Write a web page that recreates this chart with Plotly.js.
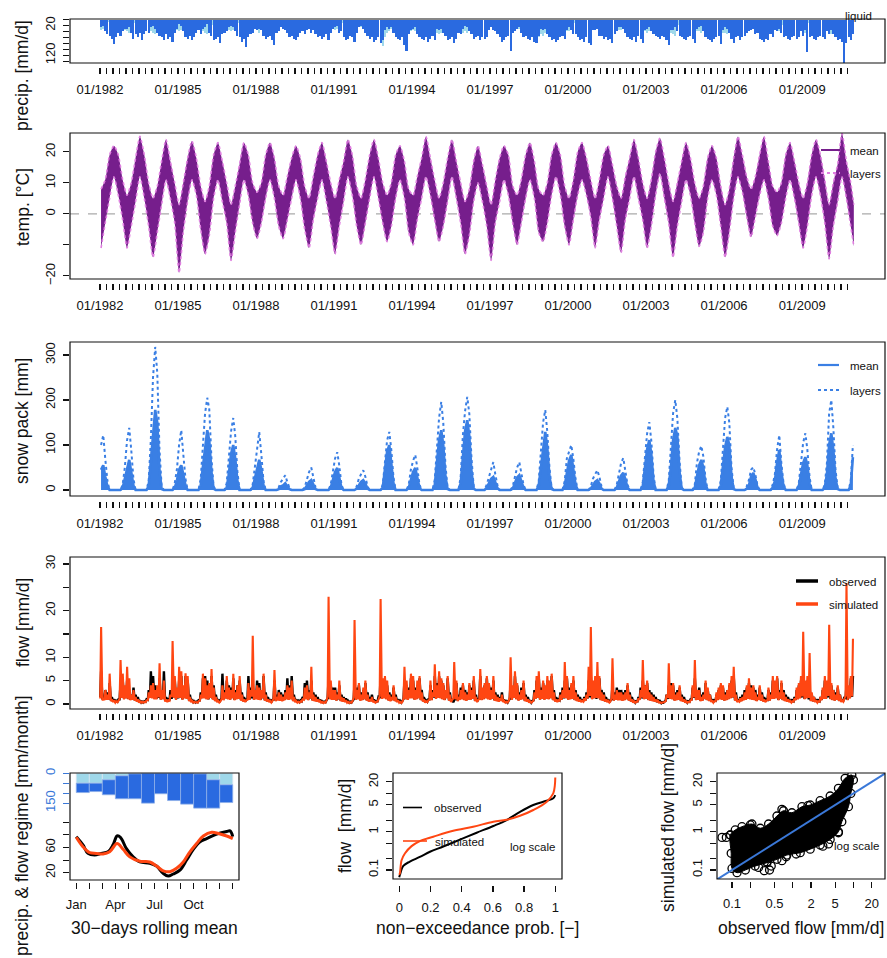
<!DOCTYPE html>
<html><head><meta charset="utf-8">
<script src="https://cdn.plot.ly/plotly-3.0.1.min.js"></script>
<style>html,body{margin:0;padding:0;background:#fff}#chart{width:887px;height:958px}</style>
</head><body><div id="chart"></div>
<script>
// ---------------- DATA ----------------
const years = [1982,1983,1984,1985,1986,1987,1988,1989,1990,1991,1992,1993,1994,1995,1996,1997,1998,1999,2000,2001,2002,2003,2004,2005,2006,2007,2008,2009,2010];
const labelYears = [1982,1985,1988,1991,1994,1997,2000,2003,2006,2009];
const tickMonths = [1,4,7,10];
const tempMonths = [1,3,5,7,9,11];
const tempEndDate = '2010-12-28';

// daily precipitation, monthly maxima [mm/d] (Jan..Dec per row)
const precipLiquid = [
25,20,40,50,55,65,81,60,45,55,40,30,
30,25,45,65,50,60,45,70,50,40,45,25,
20,30,45,55,60,70,50,65,60,75,45,30,
15,20,40,60,65,55,70,60,45,35,50,30,
25,15,45,55,70,65,60,80,50,45,40,25,
20,25,40,55,60,75,65,93,60,50,45,30,
35,30,35,55,65,60,55,70,87,45,40,25,
30,35,45,60,55,65,70,60,45,40,50,35,
30,45,35,50,60,55,65,60,50,70,45,30,
25,20,45,40,60,70,65,55,60,75,45,25,
20,30,45,55,65,60,75,70,60,80,70,35,
25,30,25,45,60,65,70,60,85,105,50,35,
30,25,50,60,65,70,60,75,65,55,70,30,
35,30,45,55,70,65,60,80,65,45,50,30,
20,25,40,50,65,60,55,70,60,65,60,35,
25,35,40,50,60,75,70,60,55,105,45,40,
30,25,45,60,55,65,70,60,75,80,55,30,
35,30,50,60,70,65,75,70,60,55,65,35,
25,35,50,50,60,70,65,75,60,80,85,35,
35,30,55,55,65,60,70,65,80,50,40,25,
25,30,45,60,65,70,60,75,55,65,80,35,
30,25,40,50,55,60,65,55,60,70,87,35,
35,25,40,55,60,65,70,60,55,65,80,30,
25,20,40,60,65,70,75,65,60,55,82,35,
25,30,45,65,80,60,55,70,60,55,45,40,
35,30,50,45,65,70,75,65,70,50,60,35,
40,30,45,60,55,65,70,60,55,65,60,40,
55,35,108,60,55,65,70,60,55,60,65,40,
50,35,50,60,70,65,75,146,80,60,70,50];
const precipSolid = [
35,30,20,8,0,0,0,0,0,0,20,35,
40,45,25,12,0,0,0,0,0,0,25,40,
45,50,35,18,4,0,0,0,0,6,20,35,
40,35,25,12,0,0,0,0,0,0,25,40,
45,50,35,18,0,0,0,0,0,0,20,35,
40,35,25,12,0,0,0,0,0,0,15,30,
35,45,35,12,0,0,0,0,0,0,15,20,
20,25,20,6,0,0,0,0,0,0,15,20,
25,35,20,6,0,0,0,0,0,0,20,25,
35,30,20,12,0,0,0,0,0,0,15,25,
25,30,25,6,0,0,0,0,0,0,90,60,
45,40,30,12,0,0,0,0,0,6,25,40,
35,40,25,12,0,0,0,0,0,0,25,45,
50,45,35,18,0,0,0,0,0,0,30,45,
40,45,35,18,4,0,0,0,0,0,20,35,
25,20,20,6,0,0,0,0,0,0,15,35,
25,30,25,12,0,0,0,0,0,0,60,50,
55,45,35,18,0,0,0,0,0,0,25,40,
40,35,25,12,0,0,0,0,0,0,15,25,
25,30,20,6,0,0,0,0,0,0,20,35,
35,30,25,12,0,0,0,0,0,0,25,40,
45,40,30,12,0,0,0,0,0,0,25,45,
50,55,40,18,0,0,0,0,0,0,20,40,
40,45,30,12,0,0,0,0,0,0,25,45,
45,50,35,18,0,0,0,0,0,0,15,25,
25,20,20,6,0,0,0,0,0,0,20,35,
35,40,30,18,0,0,0,0,0,0,20,35,
40,45,30,12,0,0,0,0,0,0,20,40,
45,50,35,18,0,0,0,0,0,0,25,45];

// temperature envelope [°C], bimonthly (Jan,Mar,May,Jul,Sep,Nov) + Dec 2010
const tempHigh = [
8,11,19,22,19,11,  6,10,18,25,19,10,  5,9,17,24,17,10,  3,10,18,23.5,18,9,
4,9,19,23,17,10,   3,9,16,23,19,10,   7,10,19,23,18,9,  6,12,18,22,18,9,
5,12,19,23,17,10,  5,11,17,24,19,9,   5,11,19,24,18,10, 6,10,19,22,17,8,
6,12,18,25,18,11,  5,10,18,24,17,10,  4,8,17,22,16,9,   3,11,18,22,19,9,
6,11,19,23,17,8,   6,10,19,23,19,9,   5,11,20,23,18,11, 5,11,19,22,16,9,
5,12,18,24,18,10,  5,11,20,24.5,18,10, 4,10,17,23,18,10, 5,9,18,22,18,9,
3,8,18,25,19,12,   8,12,19,25,17,9,   7,10,19,23,17,10, 5,10,19,24,19,11,
3,10,16,26,17,10,  3];
const tempLow = [
-11,-3,5,12,6,-2,  -11,-4,4,12,5,-4,  -14,-6,3,11,5,-3,  -19,-6,4,11,6,-5,
-13,-7,5,11,4,-3,  -15,-6,3,11,6,-3,  -8,-3,5,11,5,-4,   -8,-2,5,11,5,-5,
-11,-2,5,11,4,-4,  -13,-4,4,12,6,-4,  -10,-3,5,12,5,-3,  -9,-4,5,11,5,-6,
-10,-2,5,12,6,-2,  -9,-4,4,12,5,-3,   -13,-7,4,10,4,-4,  -15,-3,4,11,6,-3,
-10,-3,5,11,5,-6,  -9,-3,6,12,6,-4,   -10,-2,6,11,6,-1,  -11,-2,5,12,5,-4,
-12.5,-2,5,12,5,-2, -11,-4,6,13,5,-3, -14,-4,4,11,6,-3,  -10.5,-6,5,11,6,-4,
-14,-6,5,12,7,-1,  -7.5,-1,6,11,5,-4, -7,-3,5,11,5,-3,   -11,-4,6,12,6,-3,
-14.5,-4,4,12,5,-4, -10.5];

// snow pack [mm], monthly (Jan..Dec)
const snowMean = [
45,55,30,8,0,0,0,0,0,0,5,25,
50,67,40,10,0,0,0,0,0,0,8,60,
130,178,150,45,2,0,0,0,0,0,5,20,
45,55,35,10,0,0,0,0,0,0,10,50,
100,133,110,40,3,0,0,0,0,0,5,35,
80,100,70,20,0,0,0,0,0,0,5,25,
50,67,45,10,0,0,0,0,0,0,2,8,
10,15,8,2,0,0,0,0,0,0,2,10,
18,22,12,2,0,0,0,0,0,0,5,20,
40,49,30,5,0,0,0,0,0,0,3,12,
18,22,15,3,0,0,0,0,0,0,5,40,
85,100,60,15,0,0,0,0,0,0,5,25,
40,49,30,5,0,0,0,0,0,0,10,60,
110,133,100,30,2,0,0,0,0,0,15,70,
130,155,120,40,3,0,0,0,0,0,5,15,
25,29,18,4,0,0,0,0,0,0,3,15,
28,33,20,5,0,0,0,0,0,0,10,50,
100,129,95,30,2,0,0,0,0,0,10,40,
65,78,50,12,0,0,0,0,0,0,3,12,
18,22,15,3,0,0,0,0,0,0,5,20,
32,38,25,5,0,0,0,0,0,0,8,45,
90,111,80,20,0,0,0,0,0,0,10,50,
110,138,120,40,3,0,0,0,0,0,5,30,
55,67,50,12,0,0,0,0,0,0,10,50,
95,118,100,30,2,0,0,0,0,0,3,10,
30,38,25,5,0,0,0,0,0,0,5,20,
60,89,40,8,0,0,0,0,0,0,8,30,
60,73,55,15,0,0,0,0,0,0,5,35,
100,126,90,25,2,0,0,0,0,0,10,73];
const snowLayers = [
100,122,70,20,0,0,0,0,0,0,12,50,
110,138,90,25,0,0,0,0,0,0,20,110,
250,318,260,90,8,0,0,0,0,0,15,45,
100,133,80,25,0,0,0,0,0,0,25,95,
170,205,180,70,8,0,0,0,0,0,15,70,
130,160,120,40,0,0,0,0,0,0,12,50,
100,129,80,20,0,0,0,0,0,0,6,18,
25,33,18,5,0,0,0,0,0,0,6,22,
40,50,28,6,0,0,0,0,0,0,12,40,
70,84,55,12,0,0,0,0,0,0,8,25,
35,44,30,8,0,0,0,0,0,0,12,60,
110,129,90,28,0,0,0,0,0,0,12,45,
65,78,50,12,0,0,0,0,0,0,22,100,
160,196,150,55,5,0,0,0,0,0,30,120,
175,207,170,70,8,0,0,0,0,0,12,30,
50,62,35,10,0,0,0,0,0,0,8,30,
50,62,40,12,0,0,0,0,0,0,20,90,
150,178,130,50,5,0,0,0,0,0,20,70,
85,100,70,25,0,0,0,0,0,0,8,25,
35,44,30,8,0,0,0,0,0,0,12,40,
60,71,45,12,0,0,0,0,0,0,18,80,
125,151,110,35,0,0,0,0,0,0,20,90,
170,200,160,65,6,0,0,0,0,0,12,60,
85,98,75,25,0,0,0,0,0,0,20,90,
160,185,150,50,4,0,0,0,0,0,8,22,
45,51,35,10,0,0,0,0,0,0,12,35,
90,122,60,15,0,0,0,0,0,0,15,55,
105,126,90,30,0,0,0,0,0,0,12,60,
170,200,140,45,4,0,0,0,0,0,20,100];

// flow [mm/d]: monthly low (base) and peak values (Jan..Dec)
const flowObsBase = [
1.5,1.0,1.2,1.0,1.0,0.7,0.5,0.4,0.5,1.0,1.4,1.2,
1.3,1.1,0.9,1.0,0.8,0.6,0.4,0.3,0.3,0.5,0.9,1.5,
1.4,1.2,1.1,1.3,1.0,1.2,0.7,0.5,0.8,1.1,1.4,1.0,
1.2,1.4,1.0,1.3,1.2,0.8,0.5,0.4,0.3,0.4,0.8,1.3,
1.4,1.2,1.0,1.4,1.1,0.8,0.5,0.4,1.2,1.0,1.3,1.1,
1.0,1.3,0.9,1.1,1.2,0.9,0.6,0.5,1.1,1.0,1.2,1.0,
1.2,1.1,0.9,1.3,0.8,0.6,0.5,0.4,1.0,0.7,0.9,0.8,
0.7,0.9,1.2,1.0,1.2,0.8,0.5,0.4,0.4,0.6,1.1,1.2,
0.9,1.2,0.8,0.7,0.6,0.5,0.3,0.3,0.4,1.2,1.1,1.0,
1.0,0.8,1.0,0.7,0.6,0.5,0.4,0.3,0.3,1.0,1.0,1.1,
0.8,0.9,1.1,0.8,0.6,0.7,0.5,0.3,0.6,1.3,1.2,1.3,
1.1,0.8,0.7,0.9,0.7,0.5,0.4,0.3,1.1,1.1,1.0,1.3,
1.3,1.0,1.1,1.3,0.9,0.6,0.4,0.5,1.0,0.9,1.4,1.2,
1.4,1.3,1.1,0.9,1.3,0.8,0.5,0.4,1.1,0.7,1.0,1.1,
0.9,0.8,1.0,1.0,1.2,0.7,0.5,1.2,0.9,1.1,1.3,1.1,
1.0,1.2,0.8,0.7,0.6,0.8,0.5,0.3,0.3,1.1,1.0,1.4,
1.1,0.8,1.0,1.1,0.7,0.6,0.4,0.3,0.8,1.2,1.3,1.0,
1.2,1.0,1.2,1.1,1.3,0.9,0.6,0.5,0.8,1.0,1.2,1.3,
1.0,1.1,1.2,0.9,0.7,0.6,0.5,0.6,0.8,1.2,1.4,1.1,
1.3,1.1,1.3,0.9,0.8,0.6,0.5,0.4,1.0,0.8,1.0,0.9,
0.9,0.8,0.9,1.1,0.8,0.6,0.4,0.3,0.6,1.0,1.2,1.1,
1.2,0.9,0.8,0.7,0.6,0.4,0.3,0.2,0.3,0.7,1.1,1.2,
1.1,0.8,0.9,1.0,0.7,0.6,0.4,0.3,0.5,1.0,1.3,0.9,
1.0,0.7,0.8,1.2,0.9,0.7,0.5,0.4,0.7,0.9,1.1,1.0,
0.8,0.9,1.1,1.3,1.4,0.8,0.5,0.6,0.7,0.9,1.0,1.2,
1.1,1.0,0.9,0.7,1.0,0.8,0.6,0.5,0.9,0.8,1.2,1.2,
1.3,0.9,1.2,0.9,0.7,0.6,0.5,0.4,0.6,0.9,1.1,1.3,
1.4,1.1,1.3,1.0,0.7,0.6,0.5,0.4,0.6,0.9,1.2,1.2,
1.4,1.1,0.9,0.8,1.0,0.7,0.5,0.6,1.1,0.9,1.3,1.5];
const flowObsPeak = [
7.0,1.5,3.0,2.5,4.5,1.5,1.0,0.7,1.0,4.5,5.0,3.0,
5.0,3.0,2.0,3.5,2.0,1.5,0.8,0.5,0.6,1.0,3.0,7.0,
6.0,4.0,3.5,5.5,3.0,7.0,1.5,1.0,3.0,4.0,5.0,3.0,
5.0,6.0,3.5,6.0,5.0,2.0,1.0,0.6,0.5,0.8,2.5,5.5,
6.0,5.0,3.5,6.0,4.0,2.0,1.0,0.7,6.5,3.0,5.0,4.0,
3.5,5.5,3.0,4.0,5.0,2.5,1.5,1.0,6.0,3.5,4.5,3.0,
5.0,4.5,3.0,6.0,2.5,1.5,1.0,0.8,5.0,2.0,3.0,2.5,
2.0,3.0,5.5,4.0,6.0,2.0,1.0,0.7,0.8,1.5,4.5,5.0,
3.0,5.0,2.5,2.0,1.5,1.0,0.6,0.5,0.8,5.5,4.0,3.5,
3.5,2.5,4.0,2.0,1.5,1.2,0.7,0.5,0.6,4.5,3.5,4.0,
2.5,3.0,4.5,2.5,1.5,2.0,1.0,0.6,1.5,6.0,4.5,5.0,
4.0,2.5,2.0,3.5,2.0,1.0,0.7,0.6,5.0,4.0,3.5,5.5,
5.0,3.5,4.0,5.5,3.0,1.5,0.8,1.0,4.0,3.0,6.0,4.5,
6.0,5.0,4.0,3.0,5.5,2.5,1.0,0.8,4.5,2.0,3.5,4.0,
3.0,2.5,4.0,3.5,5.0,2.0,1.0,6.0,3.0,4.0,5.5,4.0,
3.5,5.0,2.5,2.0,1.5,2.5,1.0,0.6,0.7,4.5,3.5,6.0,
4.0,2.5,3.5,4.5,2.0,1.5,0.8,0.6,3.0,5.0,5.5,3.5,
4.5,3.5,5.0,4.0,6.0,3.0,1.5,1.0,2.5,3.5,5.0,5.5,
3.5,4.0,5.0,3.0,2.0,1.5,1.0,1.5,2.5,5.0,6.0,4.0,
5.0,4.0,5.5,3.0,2.5,1.5,1.0,0.7,4.0,2.5,3.5,3.0,
3.0,2.5,3.0,4.0,2.5,1.5,0.8,0.6,1.5,3.5,5.0,4.0,
4.5,3.0,2.5,2.0,1.5,1.0,0.6,0.4,0.5,2.0,4.0,4.5,
4.0,2.5,3.0,3.5,2.0,1.5,0.8,0.6,1.0,3.5,5.5,3.0,
3.5,2.0,2.5,4.5,3.0,2.0,1.0,0.8,2.0,3.0,4.0,3.5,
2.5,3.0,4.0,5.0,6.0,2.5,1.0,1.5,2.0,3.0,3.5,4.5,
4.0,3.5,3.0,2.0,3.5,2.5,1.5,1.0,3.0,2.5,5.0,4.5,
5.5,3.0,4.5,3.0,2.0,1.5,1.0,0.8,1.5,3.0,4.0,5.0,
6.0,4.0,5.0,3.5,2.0,1.5,1.0,0.8,1.5,3.0,5.0,4.5,
5.5,4.0,3.0,2.5,3.5,2.0,1.0,1.5,4.0,3.0,5.5,6.0];
const flowSimBase = [
1.2,0.8,1.0,0.9,0.9,0.6,0.4,0.3,0.4,1.1,1.3,1.0,
1.2,1.0,0.8,0.9,0.7,0.5,0.3,0.3,0.3,0.4,0.8,1.3,
1.2,1.0,1.0,1.4,0.9,1.0,0.5,0.4,0.7,1.5,1.3,0.9,
1.3,1.3,0.9,1.2,1.1,0.6,0.4,0.3,0.3,0.3,0.7,1.2,
1.2,1.0,1.0,1.3,0.9,0.6,0.4,0.3,1.0,0.8,1.2,1.0,
0.9,1.2,0.8,1.0,1.1,0.7,0.5,0.4,0.9,0.9,1.6,0.9,
1.0,0.9,0.8,1.2,0.7,0.5,0.4,0.3,1.1,0.6,0.8,0.7,
0.6,0.8,1.0,0.9,1.0,0.6,0.4,0.3,0.3,0.5,0.9,1.0,
0.8,1.2,0.7,0.6,0.5,0.4,0.3,0.2,0.3,1.6,1.0,0.9,
0.9,0.7,1.0,0.6,0.5,0.4,0.3,0.2,0.3,1.4,0.9,1.0,
0.7,0.8,1.0,0.7,0.5,0.6,0.4,0.3,0.5,1.7,1.1,1.2,
1.0,0.7,0.6,0.8,0.6,0.4,0.3,0.2,1.2,1.0,0.9,1.2,
1.2,0.9,1.0,1.2,0.8,0.5,0.3,0.4,0.9,0.8,1.5,1.1,
1.3,1.2,1.0,0.8,1.2,0.7,0.4,1.2,1.0,0.6,0.9,1.0,
0.8,0.7,0.9,0.9,1.1,0.6,0.4,1.1,0.8,1.0,1.2,1.0,
0.9,1.1,0.7,0.6,0.5,0.7,0.4,0.3,0.3,1.4,0.9,1.3,
1.0,0.7,0.9,1.0,0.6,0.5,0.3,0.3,0.7,1.1,1.3,0.9,
1.1,0.9,1.1,1.0,1.2,0.8,0.5,0.4,0.7,0.9,1.3,1.2,
0.9,1.0,1.1,0.8,0.6,0.5,0.4,0.5,0.7,1.2,1.7,1.0,
1.2,1.3,1.2,0.8,0.7,0.5,0.4,0.3,1.2,0.7,0.9,0.8,
0.8,0.7,0.8,1.0,0.7,0.5,0.3,0.3,0.5,0.9,1.4,1.0,
1.1,0.8,0.7,0.6,0.5,0.4,0.3,0.2,0.3,0.6,1.3,1.1,
1.0,0.7,0.8,0.9,0.6,0.5,0.3,0.3,0.4,0.9,1.4,0.8,
0.9,0.6,0.7,1.1,0.8,0.6,0.4,0.3,0.6,0.8,1.0,0.9,
0.7,0.8,1.0,1.2,1.4,0.7,0.4,0.5,0.6,0.8,0.9,1.1,
1.0,0.9,0.8,0.6,0.9,0.7,0.5,0.4,0.8,0.7,1.1,1.1,
1.2,0.8,1.1,0.8,0.6,0.5,0.4,0.3,0.5,0.8,1.0,1.2,
1.6,1.0,1.2,1.3,0.6,0.5,0.4,0.3,0.5,0.8,1.1,1.1,
1.7,1.0,0.8,0.7,0.9,0.6,0.4,0.5,1.8,0.8,1.2,1.6];
const flowSimPeak = [
16.5,1.0,3.0,2.0,6.5,1.0,0.8,0.6,0.8,9.4,6.5,4.0,
8.0,5.5,2.0,3.0,1.5,1.0,0.6,0.5,0.5,0.8,2.5,4.0,
4.5,3.0,4.0,8.7,3.0,5.0,1.0,0.8,2.0,13.5,6.0,3.5,
8.0,7.0,4.0,6.6,6.0,1.5,0.7,0.5,0.4,0.6,2.0,6.5,
5.5,4.0,4.5,7.5,3.5,1.5,0.7,0.5,4.0,2.5,6.0,3.5,
3.0,6.5,2.5,4.0,6.0,2.0,1.0,0.8,4.5,3.0,14.6,3.0,
4.0,3.5,3.0,6.5,2.0,1.0,0.7,0.6,7.3,1.5,2.5,2.0,
1.5,2.5,4.0,3.5,5.0,1.5,0.7,0.5,0.6,1.0,3.5,4.0,
2.5,8.0,2.0,1.5,1.0,0.7,0.5,0.4,0.7,23.0,5.0,3.0,
3.0,2.0,5.0,1.5,1.2,0.8,0.5,0.4,0.6,18.0,3.0,4.5,
2.0,3.5,5.0,2.0,1.0,1.5,0.6,0.5,1.0,22.5,5.5,6.0,
5.0,2.0,1.5,4.0,1.5,0.8,0.5,0.4,8.0,5.0,3.0,6.5,
6.0,3.0,5.0,6.0,2.5,1.0,0.6,0.8,5.0,2.5,8.5,4.0,
7.0,5.5,4.5,3.0,6.0,2.0,0.8,9.0,5.0,1.5,3.0,4.5,
2.5,2.0,4.5,3.0,6.0,1.5,0.8,7.5,3.5,4.5,6.0,4.5,
3.0,6.0,2.0,1.5,1.2,2.0,0.7,0.5,0.6,10.0,4.0,7.0,
4.5,2.0,3.0,5.0,1.5,1.0,0.6,0.5,2.5,6.0,7.0,3.0,
5.0,4.0,6.0,5.0,6.5,2.5,1.0,0.8,2.0,3.0,9.0,6.0,
3.0,4.5,6.0,2.5,1.5,1.0,0.7,1.2,2.0,8.0,16.5,5.0,
6.0,9.0,6.0,2.5,2.0,1.0,0.7,0.5,9.8,2.0,3.0,2.5,
2.5,2.0,2.5,4.5,2.0,1.0,0.6,0.5,1.2,3.0,9.4,4.0,
5.0,2.5,2.0,1.5,1.0,0.7,0.4,0.3,0.4,2.0,8.7,4.0,
4.5,2.0,2.5,4.0,1.5,1.0,0.6,0.5,0.8,4.0,9.4,3.0,
3.0,1.5,2.0,5.0,3.5,2.0,0.8,0.6,2.5,3.5,4.5,4.0,
2.0,3.0,4.5,6.0,8.0,2.0,0.7,1.2,1.5,2.5,4.0,5.5,
3.5,4.0,2.5,1.5,4.0,2.0,1.0,0.7,3.5,2.0,6.0,5.0,
6.0,2.5,5.0,2.5,1.5,1.0,0.7,0.6,1.2,3.5,4.5,6.0,
15.5,5.0,6.0,10.9,2.5,1.5,0.8,0.6,1.5,3.5,6.0,5.0,
17.0,4.5,3.0,2.0,4.0,2.0,0.8,1.2,25.9,4.0,6.0,14.0];

// regime (30-day rolling mean)
const regimeMonthLabels = ['Jan','','','Apr','','','Jul','','','Oct','','',''];
const regimePrecipSolid  = [50,50,33,13,3,0,0,0,0,3,33,58];
const regimePrecipLiquid = [47,42,75,115,125,150,103,137,155,172,142,89];
const regimeObsDay = [0,15.6,27.3,42.9,58.5,74.1,85.8,95.2,103,117,132.6,148.2,171.6,187.2,202.8,214.5,226.2,241.8,257.4,273,288.6,304.2,327.6,351,358.8,365];
const regimeObs    = [77,64,50.5,48,50.5,53,64,78,76,58,45,37,35,30.5,19,14.7,18,24,40,57,69,74,81,85,86,77];
const regimeSimDay = [0,15.6,31.2,46.8,62.4,78,95.2,109.2,124.8,148.2,171.6,187.2,202.8,218.4,234,249.6,265.2,280.8,296.4,316,331.5,351,365];
const regimeSim    = [76,61,51.6,50.5,49.5,53,66,57,45,38,37,30.5,23,21.6,27,37,53,66,78,84,82,78,74];

// flow duration curve
const fdcProbObs = [0,0.004,0.026,0.068,0.132,0.197,0.282,0.389,0.496,0.603,0.688,0.774,0.859,0.944,0.987,1.0];
const fdcObs     = [0.065,0.074,0.128,0.166,0.22,0.30,0.41,0.62,0.94,1.41,2.02,3.3,4.98,6.45,7.5,9.0];
const fdcProbSim = [0,0.004,0.015,0.036,0.079,0.132,0.218,0.346,0.474,0.603,0.688,0.774,0.859,0.944,0.987,0.997,1.0];
const fdcSim     = [0.075,0.082,0.18,0.27,0.42,0.57,0.74,1.06,1.35,1.82,2.05,2.6,3.69,6.0,10,16,26];

// scatter: outline of the dense point cloud and isolated points
const cloudObs = [0.094,0.113,0.146,0.213,0.292,0.40,0.55,0.706,0.97,1.42,1.94,2.83,4.14,5.66,7.3,9.4,10.0,9.06,8.28,6.44,5.66,4.14,2.83,1.94,1.33,0.80,0.55,0.377,0.24,0.166,0.121,0.10,0.097,0.094];
const cloudSim = [0.82,1.11,1.35,1.59,1.23,1.59,2.57,3.53,3.13,4.5,4.98,6.45,8.55,13.6,24.8,30.2,22.4,10.0,4.5,1.82,1.0,0.63,0.45,0.35,0.283,0.246,0.19,0.155,0.127,0.10,0.085,0.11,0.273,0.82];
const outObs = [0.0685,0.0806,0.274,0.34,0.415,0.443,0.377,0.664,0.78,1.14,3.14,3.88,5.66,0.2,0.664,1.78];
const outSim = [0.71,0.71,0.117,0.096,0.10,0.127,0.165,0.175,0.222,0.262,0.42,0.48,0.94,1.5,3.85,4.77];
const oneToOne = [0.04,40];

// ---------------- HELPERS ----------------
const W=887,H=958;
const px=x=>x/W, py=y=>1-y/H;
const pad=n=>n<10?'0'+n:''+n;
const FONT='Liberation Sans, Arial, Helvetica, sans-serif';
const C={dark:'#2a6ae0',light:'#9fd8ea',purple:'#761e8c',pink:'#e07fe0',snow:'#3a7fe4',orange:'#ff4612',blue:'#3a78d8'};

const monthX=[]; years.forEach(y=>{for(let m=1;m<=12;m++) monthX.push(y+'-'+pad(m)+'-15');});
const tempX=[]; years.forEach(y=>tempMonths.forEach(m=>tempX.push(y+'-'+pad(m)+'-15'))); tempX.push(tempEndDate);
const flowX=[],obsY=[],simY=[];
years.forEach((y,yi)=>{for(let m=1;m<=12;m++){const i=yi*12+m-1;
  flowX.push(y+'-'+pad(m)+'-03', y+'-'+pad(m)+'-16');
  obsY.push(flowObsBase[i],flowObsPeak[i]); simY.push(flowSimBase[i],flowSimPeak[i]);}});
const tVals=[],tText=[];
years.forEach(y=>tickMonths.forEach(m=>{tVals.push(y+'-'+pad(m)+'-01');tText.push(m===1&&labelYears.includes(y)?'01/'+y:'');}));

const tickFont={family:FONT,size:13,color:'#111'};
function timeX(pos){return {type:'date',range:['1980-11-05','2012-03-10'],domain:[px(70),px(885)],anchor:'free',position:py(pos),
  tickmode:'array',tickvals:tVals,ticktext:tText,ticks:'outside',ticklen:6,tickwidth:1.3,tickcolor:'#111',
  showline:false,showgrid:false,zeroline:false,tickfont:tickFont,tickangle:0,ticklabelstandoff:4,automargin:false};}
function yAx(anchor,top,bot,range,vals,text,extra){return Object.assign({anchor:anchor,domain:[py(bot),py(top)],range:range,
  tickmode:'array',tickvals:vals,ticktext:text,ticks:'outside',ticklen:6,tickwidth:1.1,tickcolor:'#111',tickangle:-90,
  showline:false,showgrid:false,zeroline:false,tickfont:tickFont,ticklabelstandoff:3,automargin:false},extra||{});}

const monthDays = 365/12;
const regTicks=[]; for(let i=0;i<=12;i++) regTicks.push(i*monthDays);
const regBarX=regimePrecipSolid.map((v,i)=>(i+0.5)*monthDays);

// ---------------- TRACES ----------------
const traces=[
 {type:'bar',x:monthX,y:precipSolid,xaxis:'x',yaxis:'y',width:30*86400000,marker:{color:C.light,line:{width:0}}},
 {type:'bar',x:monthX,y:precipLiquid,xaxis:'x',yaxis:'y',width:29*86400000,marker:{color:C.dark,line:{width:0}}},

 {type:'scatter',mode:'lines',x:tempX,y:tempHigh,xaxis:'x2',yaxis:'y2',line:{color:C.pink,width:1.6,dash:'dot',shape:'spline',smoothing:0.6}},
 {type:'scatter',mode:'lines',x:tempX,y:tempLow,xaxis:'x2',yaxis:'y2',fill:'tonexty',fillcolor:C.purple,line:{color:C.pink,width:1.6,dash:'dot',shape:'spline',smoothing:0.6}},

 {type:'scatter',mode:'lines',x:monthX,y:snowLayers,xaxis:'x3',yaxis:'y3',line:{color:C.snow,width:2,dash:'dot'}},
 {type:'scatter',mode:'lines',x:monthX,y:snowMean,xaxis:'x3',yaxis:'y3',fill:'tozeroy',fillcolor:C.snow,line:{color:C.snow,width:2.6}},

 {type:'scatter',mode:'lines',x:flowX,y:obsY,xaxis:'x4',yaxis:'y4',line:{color:'#000',width:2.4}},
 {type:'scatter',mode:'lines',x:flowX,y:simY,xaxis:'x4',yaxis:'y4',line:{color:C.orange,width:2.1}},

 {type:'bar',x:regBarX,y:regimePrecipSolid,xaxis:'x5',yaxis:'y6',width:monthDays,marker:{color:C.light,line:{color:'#d8e4f0',width:0.8}}},
 {type:'bar',x:regBarX,y:regimePrecipLiquid,base:regimePrecipSolid,xaxis:'x5',yaxis:'y6',width:monthDays,marker:{color:C.dark,line:{color:'#8fb0e8',width:0.8}}},
 {type:'scatter',mode:'lines',x:regimeObsDay,y:regimeObs,xaxis:'x5',yaxis:'y5',line:{color:'#000',width:3,shape:'spline'}},
 {type:'scatter',mode:'lines',x:regimeSimDay,y:regimeSim,xaxis:'x5',yaxis:'y5',line:{color:C.orange,width:3,shape:'spline'}},

 {type:'scatter',mode:'lines',x:fdcProbObs,y:fdcObs,xaxis:'x6',yaxis:'y7',line:{color:'#000',width:2,shape:'spline'}},
 {type:'scatter',mode:'lines',x:fdcProbSim,y:fdcSim,xaxis:'x6',yaxis:'y7',line:{color:C.orange,width:2,shape:'spline'}},

 {type:'scatter',mode:'lines+markers',x:cloudObs,y:cloudSim,xaxis:'x7',yaxis:'y8',fill:'toself',fillcolor:'#000',line:{color:'#000',width:1,shape:'spline'},
   marker:{symbol:'circle-open',size:8,color:'#000',line:{width:1.3}}},
 {type:'scatter',mode:'markers',x:outObs,y:outSim,xaxis:'x7',yaxis:'y8',marker:{symbol:'circle-open',size:8,color:'#000',line:{width:1.3}}},
 {type:'scatter',mode:'lines',x:oneToOne,y:oneToOne,xaxis:'x7',yaxis:'y8',line:{color:C.blue,width:2}}
];

// ---------------- LAYOUT ----------------
const box=(l,t,r,b)=>({type:'rect',xref:'paper',yref:'paper',x0:px(l),x1:px(r),y0:py(b),y1:py(t),line:{color:'#111',width:1.2},fillcolor:'rgba(0,0,0,0)'});
const seg=(x0,x1,y,color,width,dash)=>({type:'line',xref:'paper',yref:'paper',x0:px(x0),x1:px(x1),y0:py(y),y1:py(y),line:{color:color,width:width,dash:dash||'solid'}});
const txt=(x,y,t,size,opts)=>Object.assign({xref:'paper',yref:'paper',x:px(x),y:py(y),text:t,showarrow:false,font:{family:FONT,size:size,color:'#111'},xanchor:'center',yanchor:'middle'},opts||{});

const layout={
 width:W,height:H,margin:{l:0,r:0,t:0,b:0,pad:0},paper_bgcolor:'#fff',plot_bgcolor:'rgba(0,0,0,0)',
 showlegend:false,hovermode:false,barmode:'overlay',bargap:0,
 xaxis:timeX(67), yaxis:yAx('x',19,63,[146,-2],[0,20,40,60,80,100,120,140],['','20','','','','','120','']),
 xaxis2:timeX(283), yaxis2:yAx('x2',133,279,[-21,26.1],[-20,-10,0,10,20],['\u221220','','0','10','20']),
 xaxis3:timeX(501), yaxis3:yAx('x3',342,496,[-13.3,329],[0,100,200,300],['0','100','200','300']),
 xaxis4:timeX(713), yaxis4:yAx('x4',557,709,[-1.07,31.5],[0,5,10,15,20,25,30],['0','5','10','','20','','30']),
 xaxis5:{domain:[px(70),px(239)],range:[-14.6,379.6],anchor:'free',position:py(882),tickmode:'array',tickvals:regTicks,ticktext:regimeMonthLabels,
   ticks:'outside',ticklen:6,tickwidth:1.3,tickcolor:'#111',showline:false,showgrid:false,zeroline:false,tickfont:tickFont,tickangle:0,ticklabelstandoff:4,automargin:false},
 yaxis5:yAx('x5',773,880,[8.5,177.5],[20,40,60,80,100],['20','','60','','']),
 yaxis6:yAx('x5',773,880,[535,-1],[0,50,100,150],['0','','','150'],{overlaying:'y5',side:'left',tickcolor:C.blue,tickfont:{family:FONT,size:13,color:C.blue}}),
 xaxis6:{domain:[px(393),px(562)],range:[-0.04,1.043],anchor:'free',position:py(885),tickmode:'array',tickvals:[0,0.2,0.4,0.6,0.8,1],ticktext:['0','0.2','0.4','0.6','0.8','1'],
   ticks:'outside',ticklen:6,tickwidth:1.3,tickcolor:'#111',showline:false,showgrid:false,zeroline:false,tickfont:tickFont,tickangle:0,ticklabelstandoff:4,automargin:false},
 yaxis7:yAx('x6',773,879,[-1.235,1.533],[0.1,0.2,0.5,1,2,5,10,20],['0.1','','','1','','5','','20'],{type:'log'}),
 xaxis7:{type:'log',domain:[px(717),px(885)],range:[-1.247,1.52],anchor:'free',position:py(881),tickmode:'array',tickvals:[0.1,0.2,0.5,1,2,5,10,20],ticktext:['0.1','','0.5','','2','5','','20'],
   ticks:'outside',ticklen:6,tickwidth:1.3,tickcolor:'#111',showline:false,showgrid:false,zeroline:false,tickfont:tickFont,tickangle:0,ticklabelstandoff:4,automargin:false},
 yaxis8:yAx('x7',773,879,[-1.235,1.533],[0.1,0.2,0.5,1,2,5,10,20],['0.1','','','1','','5','','20'],{type:'log'}),
 shapes:[
  {type:'line',xref:'paper',yref:'y2',x0:px(70),x1:px(885),y0:0,y1:0,layer:'below',line:{color:'#aaaaaa',width:1.2,dash:'dash'}},
  box(70,19,885,63),box(70,133,885,279),box(70,342,885,496),box(70,557,885,709),
  box(70,773,239,880),box(393,773,562,879),box(717,773,885,879),
  seg(821,840,150,C.purple,2), seg(821,840,173,C.pink,2,'dot'),
  seg(818,839,365,C.snow,2.2), seg(818,839,390,C.snow,2,'dot'),
  seg(796,818,581,'#000',3.5), seg(796,818,604,C.orange,3.5),
  seg(403,422,807.5,'#000',1.6), seg(403,427,841,C.orange,1.6)
 ],
 annotations:[
  txt(22,76,'precip. [mm/d]',17.5,{textangle:-90}),
  txt(23,207,'temp. [°C]',17.5,{textangle:-90}),
  txt(22,421,'snow pack [mm]',17.5,{textangle:-90}),
  txt(23,623,'flow [mm/d]',17.5,{textangle:-90}),
  txt(22,826,'precip. &amp; flow regime [mm/month]',17.5,{textangle:-90}),
  txt(345,826,'flow  [mm/d]',17.5,{textangle:-90}),
  txt(668,828,'simulated flow [mm/d]',17.5,{textangle:-90}),
  txt(154,928,'30\u2212days rolling mean',17.5),
  txt(477,928,'non\u2212exceedance prob. [\u2212]',17.5),
  txt(801,928,'observed flow [mm/d]',17.5),
  txt(843,16,'liquid',11.5,{xanchor:'left'}),
  txt(848,151,'mean',11.5,{xanchor:'left'}), txt(848,174,'layers',11.5,{xanchor:'left'}),
  txt(848,366,'mean',11.5,{xanchor:'left'}), txt(848,391,'layers',11.5,{xanchor:'left'}),
  txt(827,582,'observed',11.5,{xanchor:'left'}), txt(827,605,'simulated',11.5,{xanchor:'left'}),
  txt(432,808,'observed',11.5,{xanchor:'left'}), txt(433,842,'simulated',11.5,{xanchor:'left'}),
  txt(532,847,'log scale',11.5), txt(856,846,'log scale',11.5)
 ]
};
Plotly.newPlot('chart',traces,layout,{staticPlot:true,displayModeBar:false});
</script></body></html>
